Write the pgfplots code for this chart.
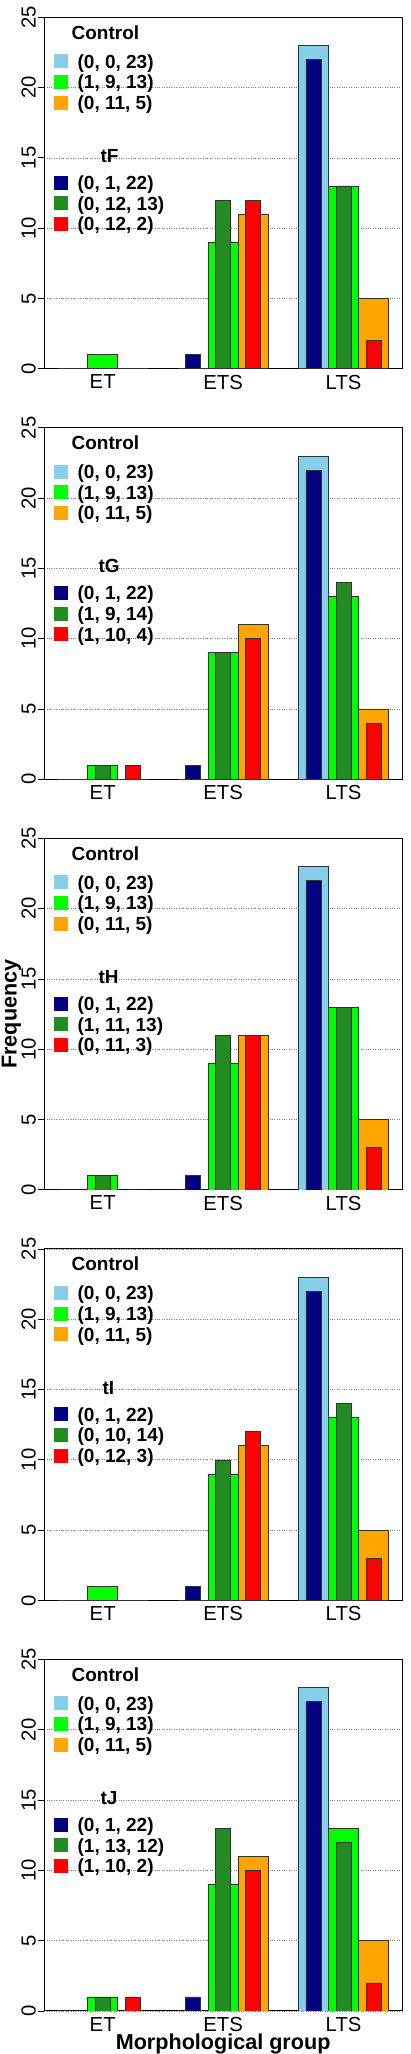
\documentclass[border=0pt]{standalone}
\usepackage{fontspec}
\setmainfont{Liberation Sans}
\usepackage{pgfplots}
\pgfplotsset{compat=1.18}
\definecolor{cSky}{HTML}{87CEEB}
\definecolor{cGreen}{HTML}{00FF00}
\definecolor{cOrange}{HTML}{FFA500}
\definecolor{cNavy}{HTML}{000080}
\definecolor{cDkGreen}{HTML}{228B22}
\definecolor{cRed}{HTML}{FF0000}
\tikzset{
  ent/.style={anchor=base west, text height=14pt, text depth=6.7pt, inner sep=0pt},
  ttlA/.style={anchor=base west, text height=14pt, text depth=14.9pt, inner sep=0pt},
  ttlB/.style={anchor=base west, text height=46.3pt, text depth=13pt, inner sep=0pt},
}
\pgfplotsset{
  sqleg/.style={legend image code/.code={\fill[##1, draw=none] (0pt,-0.2pt) rectangle (14pt,13.8pt);}},
  cbar/.style={ybar, bar width=1, bar shift=0pt, draw=black!80, line width=0.6pt, sqleg},
  tbar/.style={ybar, bar width=0.5, bar shift=0pt, draw=black!80, line width=0.6pt, sqleg},
  panel/.style={
    scale only axis, width=358pt, height=351.7pt, anchor=north west,
    xmin=0.56, xmax=12.44, ymin=0, ymax=25,
    xtick={2.5,6.5,10.5}, xticklabels={ET,ETS,LTS},
    ytick={0,5,...,25}, ytick pos=left,
    tick align=outside, major tick length=6pt,
    xtick style={draw=none}, ytick style={black, line width=0.8pt},
    ymajorgrids, major grid style={gray, dotted, line width=0.7pt},
    axis line style={line width=0.9pt, black},
    tick label style={font=\fontsize{20.3}{24}\selectfont},
    yticklabel style={rotate=90, anchor=south, inner xsep=0pt, inner ysep=2.3pt},
    xticklabel style={anchor=north, inner sep=0pt},
    /pgf/number format/assume math mode=true,
    legend style={draw=none, fill=none, at={(0,1)}, anchor=north west,
      xshift=9.7pt, yshift=-7.9pt, inner sep=0pt, outer sep=0pt,
      row sep=0pt, column sep=9.7pt,
      font=\fontsize{19}{22}\selectfont\bfseries},
    legend cell align=left,
  },
}
\begin{document}
\begin{tikzpicture}
\path (0,0) rectangle (411pt,-2054pt);
% ---------- tF
\begin{axis}[panel, at={(44.3pt,-17.3pt)}]
\addlegendimage{empty legend}\addlegendentry[ttlA]{\hspace*{-6pt}Control}
\addplot[cbar, fill=cSky] coordinates {(1.5,0) (5.5,0) (9.5,23)};\addlegendentry[ent]{(0, 0, 23)}
\addplot[cbar, fill=cGreen] coordinates {(2.5,1) (6.5,9) (10.5,13)};\addlegendentry[ent]{(1, 9, 13)}
\addplot[cbar, fill=cOrange] coordinates {(3.5,0) (7.5,11) (11.5,5)};\addlegendentry[ent]{(0, 11, 5)}
\addlegendimage{empty legend}\addlegendentry[ttlB]{\hspace*{23pt}tF}
\addplot[tbar, fill=cNavy] coordinates {(1.5,0) (5.5,1) (9.5,22)};\addlegendentry[ent]{(0, 1, 22)}
\addplot[tbar, fill=cDkGreen] coordinates {(2.5,0) (6.5,12) (10.5,13)};\addlegendentry[ent]{(0, 12, 13)}
\addplot[tbar, fill=cRed] coordinates {(3.5,0) (7.5,12) (11.5,2)};\addlegendentry[ent]{(0, 12, 2)}
\end{axis}
% ---------- tG
\begin{axis}[panel, at={(44.3pt,-428.15pt)}]
\addlegendimage{empty legend}\addlegendentry[ttlA]{\hspace*{-6pt}Control}
\addplot[cbar, fill=cSky] coordinates {(1.5,0) (5.5,0) (9.5,23)};\addlegendentry[ent]{(0, 0, 23)}
\addplot[cbar, fill=cGreen] coordinates {(2.5,1) (6.5,9) (10.5,13)};\addlegendentry[ent]{(1, 9, 13)}
\addplot[cbar, fill=cOrange] coordinates {(3.5,0) (7.5,11) (11.5,5)};\addlegendentry[ent]{(0, 11, 5)}
\addlegendimage{empty legend}\addlegendentry[ttlB]{\hspace*{21pt}tG}
\addplot[tbar, fill=cNavy] coordinates {(1.5,0) (5.5,1) (9.5,22)};\addlegendentry[ent]{(0, 1, 22)}
\addplot[tbar, fill=cDkGreen] coordinates {(2.5,1) (6.5,9) (10.5,14)};\addlegendentry[ent]{(1, 9, 14)}
\addplot[tbar, fill=cRed] coordinates {(3.5,1) (7.5,10) (11.5,4)};\addlegendentry[ent]{(1, 10, 4)}
\end{axis}
% ---------- tH
\begin{axis}[panel, at={(44.3pt,-839pt)}, ylabel={Frequency},
  ylabel style={at={([xshift=-42.6pt]axis description cs:0,0.5)}, rotate=0, anchor=north, inner sep=0pt, font=\fontsize{21.6}{26}\selectfont\bfseries}]
\addlegendimage{empty legend}\addlegendentry[ttlA]{\hspace*{-6pt}Control}
\addplot[cbar, fill=cSky] coordinates {(1.5,0) (5.5,0) (9.5,23)};\addlegendentry[ent]{(0, 0, 23)}
\addplot[cbar, fill=cGreen] coordinates {(2.5,1) (6.5,9) (10.5,13)};\addlegendentry[ent]{(1, 9, 13)}
\addplot[cbar, fill=cOrange] coordinates {(3.5,0) (7.5,11) (11.5,5)};\addlegendentry[ent]{(0, 11, 5)}
\addlegendimage{empty legend}\addlegendentry[ttlB]{\hspace*{21pt}tH}
\addplot[tbar, fill=cNavy] coordinates {(1.5,0) (5.5,1) (9.5,22)};\addlegendentry[ent]{(0, 1, 22)}
\addplot[tbar, fill=cDkGreen] coordinates {(2.5,1) (6.5,11) (10.5,13)};\addlegendentry[ent]{(1, 11, 13)}
\addplot[tbar, fill=cRed] coordinates {(3.5,0) (7.5,11) (11.5,3)};\addlegendentry[ent]{(0, 11, 3)}
\end{axis}
% ---------- tI
\begin{axis}[panel, at={(44.3pt,-1249.85pt)}]
\addlegendimage{empty legend}\addlegendentry[ttlA]{\hspace*{-6pt}Control}
\addplot[cbar, fill=cSky] coordinates {(1.5,0) (5.5,0) (9.5,23)};\addlegendentry[ent]{(0, 0, 23)}
\addplot[cbar, fill=cGreen] coordinates {(2.5,1) (6.5,9) (10.5,13)};\addlegendentry[ent]{(1, 9, 13)}
\addplot[cbar, fill=cOrange] coordinates {(3.5,0) (7.5,11) (11.5,5)};\addlegendentry[ent]{(0, 11, 5)}
\addlegendimage{empty legend}\addlegendentry[ttlB]{\hspace*{25pt}tI}
\addplot[tbar, fill=cNavy] coordinates {(1.5,0) (5.5,1) (9.5,22)};\addlegendentry[ent]{(0, 1, 22)}
\addplot[tbar, fill=cDkGreen] coordinates {(2.5,0) (6.5,10) (10.5,14)};\addlegendentry[ent]{(0, 10, 14)}
\addplot[tbar, fill=cRed] coordinates {(3.5,0) (7.5,12) (11.5,3)};\addlegendentry[ent]{(0, 12, 3)}
\end{axis}
% ---------- tJ
\begin{axis}[panel, at={(44.3pt,-1660.7pt)}, xlabel={Morphological group},
  xlabel style={at={([yshift=-22.7pt]axis description cs:0.5,0)}, anchor=north, inner sep=0pt, font=\fontsize{21.6}{26}\selectfont\bfseries}]
\addlegendimage{empty legend}\addlegendentry[ttlA]{\hspace*{-6pt}Control}
\addplot[cbar, fill=cSky] coordinates {(1.5,0) (5.5,0) (9.5,23)};\addlegendentry[ent]{(0, 0, 23)}
\addplot[cbar, fill=cGreen] coordinates {(2.5,1) (6.5,9) (10.5,13)};\addlegendentry[ent]{(1, 9, 13)}
\addplot[cbar, fill=cOrange] coordinates {(3.5,0) (7.5,11) (11.5,5)};\addlegendentry[ent]{(0, 11, 5)}
\addlegendimage{empty legend}\addlegendentry[ttlB]{\hspace*{23pt}tJ}
\addplot[tbar, fill=cNavy] coordinates {(1.5,0) (5.5,1) (9.5,22)};\addlegendentry[ent]{(0, 1, 22)}
\addplot[tbar, fill=cDkGreen] coordinates {(2.5,1) (6.5,13) (10.5,12)};\addlegendentry[ent]{(1, 13, 12)}
\addplot[tbar, fill=cRed] coordinates {(3.5,1) (7.5,10) (11.5,2)};\addlegendentry[ent]{(1, 10, 2)}
\end{axis}
\end{tikzpicture}
\end{document}
